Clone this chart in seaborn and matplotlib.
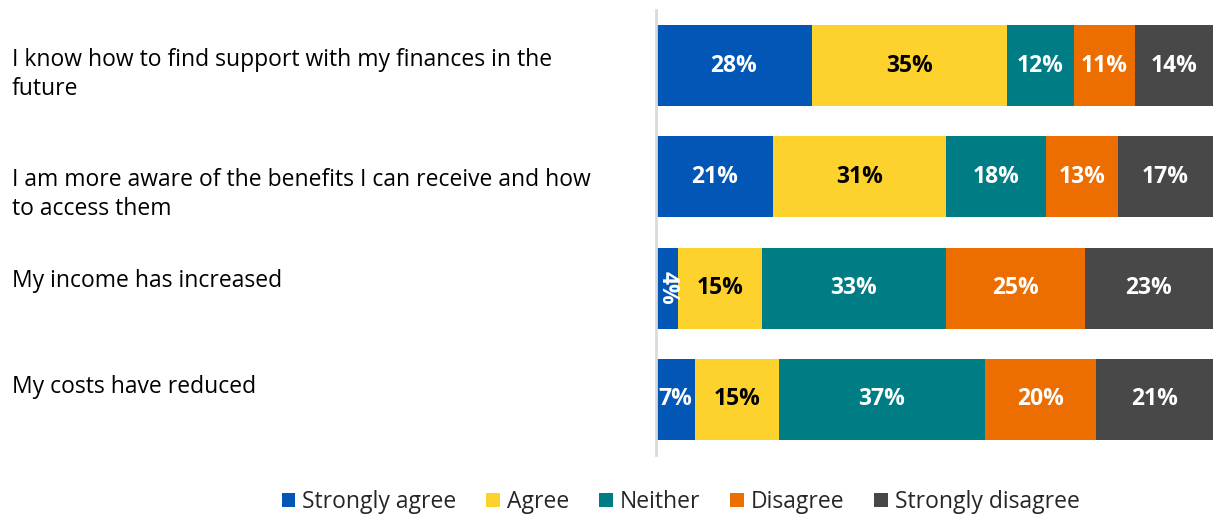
import matplotlib
matplotlib.use("Agg")
import matplotlib.pyplot as plt
import matplotlib.transforms as mtransforms
from matplotlib.patches import Patch
import numpy as np
import pandas as pd
import seaborn as sns

# Survey statements and responses (% of respondents)
statements = [
    "I know how to find support with my finances in the\nfuture",
    "I am more aware of the benefits I can receive and how\nto access them",
    "My income has increased",
    "My costs have reduced",
]
responses = ["Strongly agree", "Agree", "Neither", "Disagree", "Strongly disagree"]
strongly_agree = [28, 21, 4, 7]
agree = [35, 31, 15, 15]
neither = [12, 18, 33, 37]
disagree = [11, 13, 25, 20]
strongly_disagree = [14, 17, 23, 21]

colors = ["#0257B6", "#FDD22D", "#007C84", "#EC6D00", "#484848"]
label_colors = ["white", "black", "white", "white", "white"]

sns.set_style("white")
plt.rcParams["font.family"] = ["Open Sans", "DejaVu Sans"]

values = np.array([strongly_agree, agree, neither, disagree, strongly_disagree], dtype=float)
cum = np.cumsum(values, axis=0)

fig = plt.figure(figsize=(12.13, 5.16), dpi=100)
ax = fig.add_axes([656 / 1213, 1 - 455 / 516, 1 - 656 / 1213, 445 / 516])

# Stacked bars: draw cumulative totals from the full length down, each on top
for i in reversed(range(len(responses))):
    df = pd.DataFrame({"statement": statements, "total": cum[i]})
    sns.barplot(data=df, x="total", y="statement", orient="h", color=colors[i],
                width=0.73, saturation=1, ax=ax, linewidth=0)

# Value labels centred in each segment
for i in range(len(responses)):
    for j in range(len(statements)):
        v = values[i, j]
        centre = cum[i, j] - v / 2
        rot = 270 if v < 5 else 0
        ax.text(centre, j, f"{int(v)}%", ha="center", va="center",
                color=label_colors[i], fontsize=16.5, fontweight="bold",
                rotation=rot, rotation_mode="anchor" if rot else "default")

ax.set_xlim(0, 100)
ax.set_ylim(3.5, -0.5)
ax.set_xlabel("")
ax.set_ylabel("")
ax.set_xticks([])
ax.set_yticks([])
for side in ["top", "right", "bottom"]:
    ax.spines[side].set_visible(False)
ax.spines["left"].set_color("#D9D9D9")
ax.spines["left"].set_linewidth(2)

# Statement text, left-aligned at the figure edge
label_y = [0.08, 1.16, 1.94, 2.89]
trans = mtransforms.blended_transform_factory(fig.transFigure, ax.transData)
for text, y in zip(statements, label_y):
    ax.text(12 / 1213, y, text, transform=trans, ha="left", va="center",
            fontsize=16.5, color="black", linespacing=1.3)

handles = [Patch(facecolor=c, edgecolor="none") for c in colors]
fig.legend(handles, responses, loc="lower center", bbox_to_anchor=(0.561, -0.036),
           ncol=5, frameon=False, fontsize=16.5, handlelength=0.6, handleheight=0.6,
           handletextpad=0.3, columnspacing=1.3)

fig.savefig("out.png", dpi=100)
